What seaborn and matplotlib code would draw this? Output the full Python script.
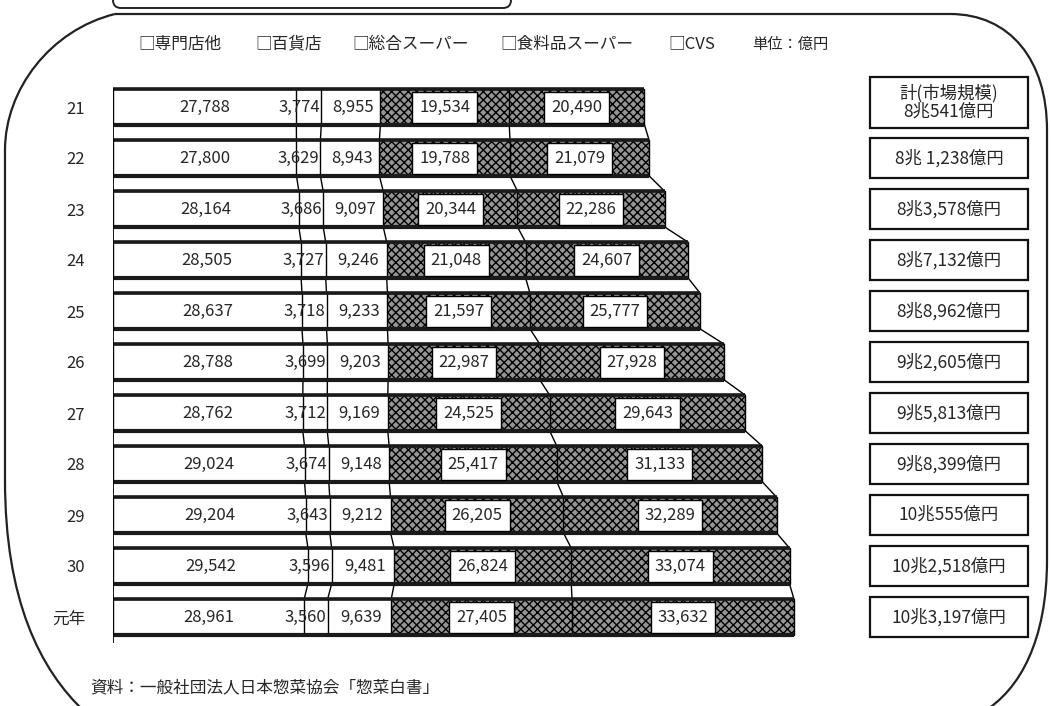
import matplotlib
matplotlib.use("Agg")
import matplotlib.pyplot as plt
import seaborn as sns
import pandas as pd
import numpy as np
from matplotlib.patches import FancyBboxPatch, Rectangle, PathPatch
from matplotlib.path import Path

# ---------------- data ----------------
years = ["21", "22", "23", "24", "25", "26", "27", "28", "29", "30", "元年"]
senmon = [27788, 27800, 28164, 28505, 28637, 28788, 28762, 29024, 29204, 29542, 28961]
hyakka = [3774, 3629, 3686, 3727, 3718, 3699, 3712, 3674, 3643, 3596, 3560]
sogo = [8955, 8943, 9097, 9246, 9233, 9203, 9169, 9148, 9212, 9481, 9639]
shokuhin = [19534, 19788, 20344, 21048, 21597, 22987, 24525, 25417, 26205, 26824, 27405]
cvs = [20490, 21079, 22286, 24607, 25777, 27928, 29643, 31133, 32289, 33074, 33632]
series_names = ["専門店他", "百貨店", "総合スーパー", "食料品スーパー", "CVS"]
total_labels = ["計(市場規模)\n8兆541億円", "8兆 1,238億円", "8兆3,578億円", "8兆7,132億円",
                "8兆8,962億円", "9兆2,605億円", "9兆5,813億円", "9兆8,399億円",
                "10兆555億円", "10兆2,518億円", "10兆3,197億円"]
unit_label = "単位：億円"
source_text = "資料：一般社団法人日本惣菜協会「惣菜白書」"

# ---------------- style ----------------
sns.set_style("white")
plt.rcParams['font.family'] = ['Noto Sans CJK JP', 'DejaVu Sans']
plt.rcParams['hatch.linewidth'] = 1.0

W, H = 1051, 706
fig = plt.figure(figsize=(W / 100, H / 100), dpi=100)
fig.patch.set_facecolor("white")

ax = fig.add_axes([113 / W, (H - 642.5) / H, 747 / W, 561 / H])
ax.patch.set_alpha(0)

df = pd.DataFrame({n: v for n, v in zip(series_names, [senmon, hyakka, sogo, shokuhin, cvs])},
                  index=years)
cum = df.cumsum(axis=1)
bar_h = 0.7

face = ["white", "white", "white", "#959595", "#959595"]
hatches = [None, None, None, "xxxx", "xxxx"]
for k in reversed(range(5)):
    kw = dict(x=cum.iloc[:, k].values, y=years, order=years, orient="y",
              color=face[k], edgecolor="black", linewidth=1.0, width=bar_h,
              saturation=1, errorbar=None, ax=ax)
    if hatches[k]:
        kw["hatch"] = hatches[k]
    sns.barplot(**kw)

ax.set_xlim(0, 113200)
ax.set_ylim(10.5, -0.5)
n = len(years)
totals = cum.iloc[:, -1].values

# pseudo-3D thick top/bottom edges
for i in range(n):
    ax.plot([0, totals[i]], [i - bar_h / 2, i - bar_h / 2], color="#1a1a1a", lw=2.6,
            solid_capstyle="butt", zorder=5)
    ax.plot([0, totals[i]], [i + bar_h / 2, i + bar_h / 2], color="#1a1a1a", lw=3.0,
            solid_capstyle="butt", zorder=5)

# series lines between bars
for i in range(n - 1):
    for k in range(5):
        ax.plot([cum.iloc[i, k], cum.iloc[i + 1, k]],
                [i + bar_h / 2, i + 1 - bar_h / 2], color="black", lw=1.0, zorder=4)
ax.plot([0, 0], [-bar_h / 2, n - 1 + bar_h / 2 + 0.25], color="black", lw=1.3, zorder=6)

# value labels
fs = 12
for i in range(n):
    for k in range(5):
        v = df.iloc[i, k]
        start = cum.iloc[i, k] - v
        txt = f"{v:,}"
        if k == 0:
            ax.text(start + v / 2, i, txt, ha="center", va="center", fontsize=fs, zorder=7)
        elif k == 1:
            ax.text(cum.iloc[i, k] - 200, i, txt, ha="right", va="center", fontsize=fs, zorder=7)
        elif k == 2:
            ax.text(start + v / 2 + 300, i, txt, ha="center", va="center", fontsize=fs, zorder=7)
        else:
            ax.text(start + v / 2, i, txt, ha="center", va="center", fontsize=fs, zorder=7,
                    bbox=dict(boxstyle="square,pad=0.42", fc="white", ec="black", lw=1.0))

ax.set_xticks([])
ax.set_xlabel("")
ax.set_ylabel("")
ax.tick_params(axis="y", length=0, pad=20, labelsize=12)
for s in ax.spines.values():
    s.set_visible(False)

# ---------------- overlay (frame, legend, totals, source) ----------------
ov = fig.add_axes([0, 0, 1, 1])
ov.set_xlim(0, W)
ov.set_ylim(H, 0)
ov.axis("off")
ov.patch.set_alpha(0)

# frame
verts = [(115, 14), (950, 14),
         (1010, 14), (1047, 60), (1047, 130),
         (1047, 560),
         (1047, 640), (1020, 690), (983, 712)]
codes = [Path.MOVETO, Path.LINETO,
         Path.CURVE4, Path.CURVE4, Path.CURVE4,
         Path.LINETO,
         Path.CURVE4, Path.CURVE4, Path.CURVE4]
ov.add_patch(PathPatch(Path(verts, codes), fc="none", ec="#222", lw=1.6))
verts2 = [(115, 14), (50, 30), (5, 90), (5, 150), (5, 480), (5, 600), (40, 670), (85, 712)]
codes2 = [Path.MOVETO, Path.CURVE4, Path.CURVE4, Path.CURVE4, Path.LINETO,
          Path.CURVE4, Path.CURVE4, Path.CURVE4]
ov.add_patch(PathPatch(Path(verts2, codes2), fc="none", ec="#222", lw=1.6))

# title box bottom (cut off)
ov.add_patch(FancyBboxPatch((113, -40), 398, 48, boxstyle="round,pad=0,rounding_size=8",
                            fc="none", ec="#222", lw=1.4))

# legend-like header
leg_x = [138, 255, 352, 500, 668]
for x, name in zip(leg_x, series_names):
    ov.text(x, 44, "□" + name, ha="left", va="center", fontsize=12)
ov.text(752, 44, unit_label, ha="left", va="center", fontsize=11)

# total boxes
row_y = [107 + 51 * i for i in range(n)]
for i, lab in enumerate(total_labels):
    if i == 0:
        top, hgt = 77, 51
    else:
        top, hgt = row_y[i] - 20, 40
    ov.add_patch(Rectangle((870, top), 158, hgt, fc="white", ec="#111", lw=1.6))
    ov.text(949, top + hgt / 2, lab, ha="center", va="center", fontsize=12.5,
            linespacing=1.0)

ov.text(90, 688, source_text, ha="left", va="center", fontsize=12)

fig.savefig("out.png", dpi=100, facecolor="white")
